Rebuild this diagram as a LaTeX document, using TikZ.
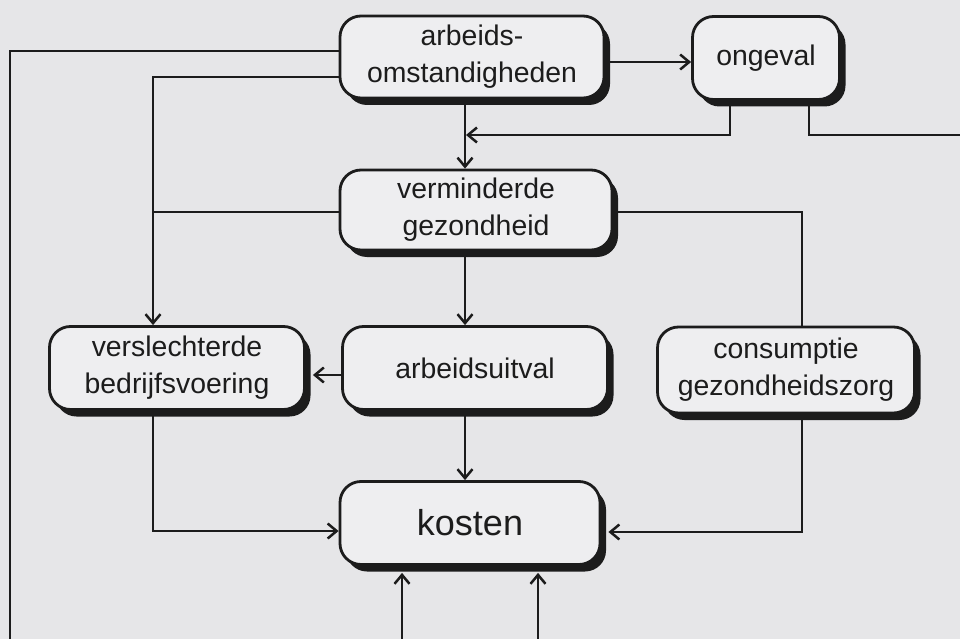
\documentclass[tikz,border=0pt]{standalone}
\usepackage{fontspec}
\setmainfont{Liberation Sans}
\usetikzlibrary{arrows.meta,shadows}

\definecolor{paper}{HTML}{E6E6E8}
\definecolor{boxfill}{HTML}{EEEEF0}
\definecolor{ink}{HTML}{1C1C1C}

\begin{document}
\begin{tikzpicture}[x=1pt, y=-1pt,
	every node/.style = {align=center, text=ink, font=\fontsize{28.4}{37}\selectfont},
	Line/.style = {-{Straight Barb[length=9pt,width=15pt]}, line width=2.5pt, draw=ink},
	Wire/.style = {line width=2.5pt, draw=ink},
	Box/.style args = {#1/#2}{draw=ink, line width=2.8pt, fill=boxfill,
		rounded corners=21pt, minimum width=#1, minimum height=#2, inner sep=0pt,
		drop shadow={shadow xshift=6pt, shadow yshift=-7pt, fill=ink, opacity=1}},
	Big/.style = {font=\fontsize{36}{40}\selectfont}
]
\path[use as bounding box, fill=paper] (0,0) rectangle (960,639);

% boxes
\node[Box=264pt/82pt] (arb)    at (472,57)    {arbeids-\\omstandigheden};
\node[Box=147pt/83pt] (ong)    at (766,58)    {ongeval};
\node[Box=272pt/80pt] (verm)   at (476,210)   {verminderde\\gezondheid};
\node[Box=255pt/83pt] (versl)  at (177,368)   {verslechterde\\bedrijfsvoering};
\node[Box=265pt/83pt] (uitval) at (475,368)   {arbeidsuitval};
\node[Box=257pt/86pt] (cons)   at (786,370)   {consumptie\\gezondheidszorg};
\node[Box=260pt/83pt, Big] (kosten) at (470,523) {kosten};

% columns and loose ends
\coordinate (colA) at (465,0);
\coordinate (colL) at (153,0);
\coordinate (colR) at (802,0);
\coordinate (j1)   at (466,135);
\coordinate (outR) at (960,135);
\coordinate (outB) at (10,639);
\coordinate (inA)  at (402,639);
\coordinate (inB)  at (538,639);
\coordinate (kbot) at ([yshift=-7pt]kosten.south);

\draw[Line] ([yshift=-5pt]arb.east) -- ([yshift=-5pt]arb.east -| ong.west);
\draw[Line] ([xshift=-36pt]ong.south) |- (j1);
\draw[Wire] ([xshift=43pt]ong.south) |- (outR);
\draw[Wire] ([yshift=6pt]arb.west) -| (outB);
\draw[Line] ([yshift=-20pt]arb.west) -| (versl.north -| colL);
\draw[Line] (arb.south -| colA) -- (verm.north -| colA);
\draw[Wire] ([yshift=-2pt]verm.west) -- ([yshift=-2pt]verm.west -| colL);
\draw[Wire] ([yshift=-2pt]verm.east) -| (cons.north -| colR);
\draw[Line] (verm.south -| colA) -- (uitval.north -| colA);
\draw[Line] ([yshift=-7pt]uitval.west) -- ([xshift=7pt,yshift=-7pt]versl.east);
\draw[Line] (uitval.south -| colA) -- (kosten.north -| colA);
\draw[Line] (versl.south -| colL) |- ([yshift=-8pt]kosten.west);
\draw[Line] (cons.south -| colR) |- ([xshift=7pt,yshift=-9pt]kosten.east);
\draw[Line] (inA) -- (kbot -| inA);
\draw[Line] (inB) -- (kbot -| inB);
\end{tikzpicture}
\end{document}
